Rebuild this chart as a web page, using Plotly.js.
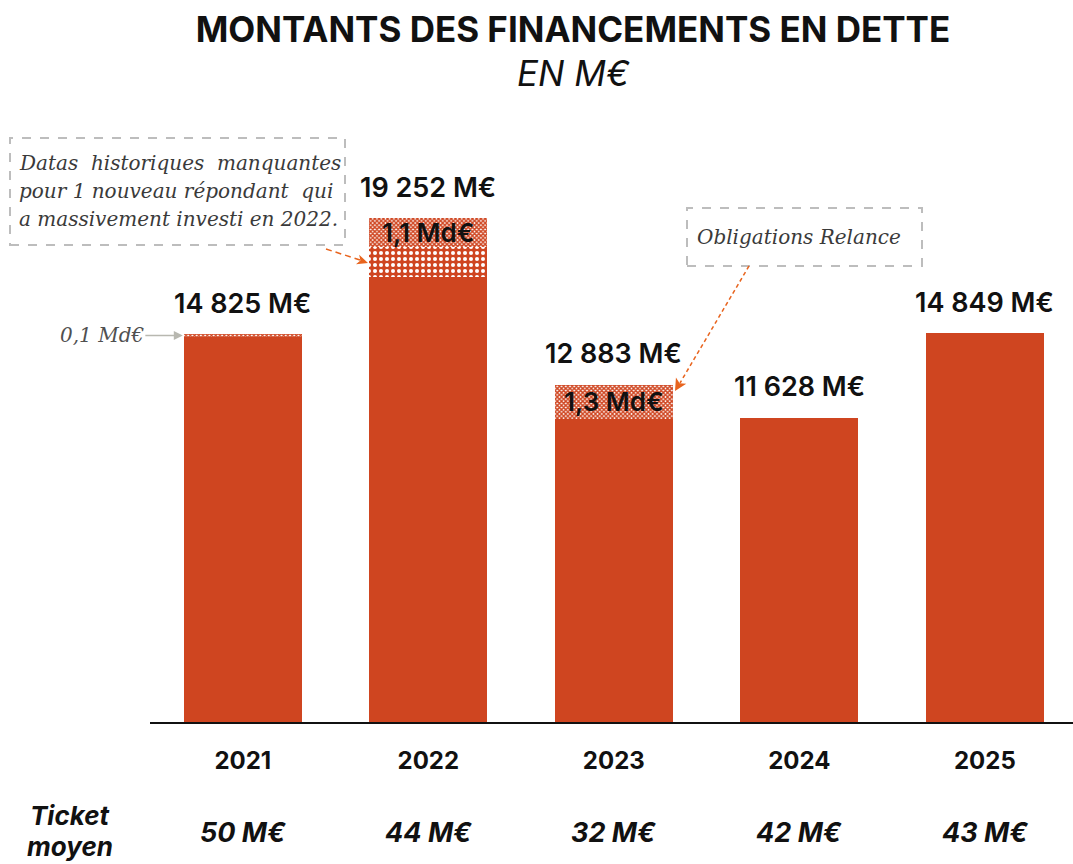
<!DOCTYPE html>
<html>
<head>
<meta charset="utf-8">
<script src="https://cdn.plot.ly/plotly-3.0.1.min.js"></script>
<style>html,body{margin:0;padding:0;background:#fff;}</style>
</head>
<body>
<div id="chart" style="width:1073px;height:864px;"></div>
<script>
// ---- data ----
const years = ['2021', '2022', '2023', '2024', '2025'];
const baseValues = [14725, 17002, 11583, 11628, 14849];      // solid part (M€)
const missingHistValues = [0, 1150, 0, 0, 0];                // historical data missing (new respondent)
const relanceValues = [100, 1100, 1300, 0, 0];               // Obligations Relance (M€)
const relanceLabels = ['', '1,1 Md€', '1,3 Md€', '', ''];
const ticketLabels = ['50 M€', '44 M€', '32 M€', '42 M€', '43 M€'];
const noteLines = ['Datas  historiques  manquantes', 'pour 1 nouveau répondant  qui', 'a massivement investi en 2022.'];

const totals = years.map((_, i) => baseValues[i] + missingHistValues[i] + relanceValues[i]);
const fmt = v => String(Math.round(v)).replace(/\B(?=(\d{3})+(?!\d))/g, ' ') + ' M€';

// ---- layout geometry helpers (pixels -> paper) ----
const W = 1073, H = 864, ML = 150, MR = 0, MT = 100, MB = 142;
const PW = W - ML - MR, PH = H - MT - MB;
const PX = px => (px - ML) / PW;
const PY = py => (H - MB - py) / PH;

const RED = '#CF4520';
const ORANGE = '#E8641E';
const SANS = 'Inter, "Noto Sans", sans-serif';
const SERIF = '"DejaVu Serif", "Liberation Serif", serif';
const barWidth = 0.636;

const traces = [
  {
    type: 'bar', x: years, y: baseValues, width: barWidth,
    marker: {color: RED, line: {width: 0}}, hoverinfo: 'skip'
  },
  {
    type: 'bar', x: years, y: missingHistValues, width: barWidth,
    marker: {color: RED, line: {width: 0},
      pattern: {shape: '.', bgcolor: RED, fgcolor: '#ffffff', size: 6, solidity: 0.35}},
    hoverinfo: 'skip'
  },
  {
    type: 'bar', x: years, y: relanceValues, width: barWidth,
    marker: {color: RED, line: {width: 0},
      pattern: {shape: 'x', bgcolor: '#ffffff', fgcolor: RED, size: 3, solidity: 0.72}},
    hoverinfo: 'skip'
  }
];

const annotations = [];
years.forEach((yr, i) => {
  annotations.push({
    x: i, y: totals[i], xref: 'x', yref: 'y', text: fmt(totals[i]),
    showarrow: false, xanchor: 'center', yanchor: 'middle', yshift: 31,
    font: {family: SANS, size: 27, color: '#111', weight: 600}
  });
  if (relanceLabels[i]) {
    annotations.push({
      x: i, y: baseValues[i] + missingHistValues[i] + relanceValues[i] / 2, xref: 'x', yref: 'y',
      text: relanceLabels[i], showarrow: false, xanchor: 'center', yanchor: 'middle',
      font: {family: SANS, size: 26, color: '#111', weight: 600}
    });
  }
  annotations.push({
    x: i, y: PY(832), xref: 'x', yref: 'paper', text: ticketLabels[i], showarrow: false,
    xanchor: 'center', yanchor: 'middle',
    font: {family: SANS, size: 27, color: '#111', weight: 700, style: 'italic'}
  });
});
annotations.push(
  {x: PX(70), y: PY(815), xref: 'paper', yref: 'paper', text: 'Ticket', showarrow: false,
   xanchor: 'center', yanchor: 'middle',
   font: {family: SANS, size: 26, color: '#111', weight: 700, style: 'italic'}},
  {x: PX(70), y: PY(846), xref: 'paper', yref: 'paper', text: 'moyen', showarrow: false,
   xanchor: 'center', yanchor: 'middle',
   font: {family: SANS, size: 26, color: '#111', weight: 700, style: 'italic'}},
  // subtitle
  {x: PX(573), y: PY(73), xref: 'paper', yref: 'paper', text: 'EN M€', showarrow: false,
   xanchor: 'center', yanchor: 'middle',
   font: {family: SANS, size: 35, color: '#111', style: 'italic'}},
  // 0,1 Md€ pointer
  {x: 0 - barWidth / 2 - 0.005, y: totals[0] - relanceValues[0] / 2, xref: 'x', yref: 'y',
   text: '0,1 Md€', showarrow: true, ax: -81, ay: 0, arrowhead: 2, arrowsize: 1.2, arrowwidth: 1.5,
   arrowcolor: '#b8b8b0', xanchor: 'center', yanchor: 'middle',
   font: {family: SERIF, size: 20, color: '#505050', style: 'italic'}},
  {x: PX(799), y: PY(237), xref: 'paper', yref: 'paper', showarrow: false,
   xanchor: 'center', yanchor: 'middle', text: 'Obligations Relance',
   font: {family: SERIF, size: 20, color: '#3a3a3a', style: 'italic'}}
);
noteLines.forEach((t, k) => {
  annotations.push({x: PX(17), y: PY(163 + 28 * k), xref: 'paper', yref: 'paper', showarrow: false,
    xanchor: 'left', yanchor: 'middle', text: t,
    font: {family: SERIF, size: 20, color: '#3a3a3a', style: 'italic'}});
});

function arrowHead(x1, y1, x2, y2, len, half) {
  const dx = x2 - x1, dy = y2 - y1, d = Math.hypot(dx, dy);
  const ux = dx / d, uy = dy / d;
  const bx = x2 - ux * len, by = y2 - uy * len;
  const p1 = [bx - uy * half, by + ux * half], p2 = [bx + uy * half, by - ux * half];
  return `M ${PX(x2)},${PY(y2)} L ${PX(p1[0])},${PY(p1[1])} L ${PX(bx + ux*3)},${PY(by + uy*3)} L ${PX(p2[0])},${PY(p2[1])} Z`;
}

const shapes = [
  {type: 'rect', xref: 'paper', yref: 'paper', x0: PX(10), x1: PX(345), y0: PY(245), y1: PY(138),
   line: {color: '#bdbdbd', width: 2, dash: 'dash'}, fillcolor: 'rgba(0,0,0,0)'},
  {type: 'rect', xref: 'paper', yref: 'paper', x0: PX(687), x1: PX(922), y0: PY(266), y1: PY(208),
   line: {color: '#bdbdbd', width: 2, dash: 'dash'}, fillcolor: 'rgba(0,0,0,0)'},
  {type: 'line', xref: 'paper', yref: 'paper', x0: PX(326), y0: PY(249), x1: PX(360), y1: PY(260),
   line: {color: ORANGE, width: 1.5, dash: '6px,4px'}},
  {type: 'path', xref: 'paper', yref: 'paper', path: arrowHead(326, 249, 368, 263, 11, 5),
   fillcolor: ORANGE, line: {width: 0}},
  {type: 'line', xref: 'paper', yref: 'paper', x0: PX(749), y0: PY(266), x1: PX(680), y1: PY(383),
   line: {color: ORANGE, width: 1.5, dash: '4px,3px'}},
  {type: 'path', xref: 'paper', yref: 'paper', path: arrowHead(749, 266, 675, 391, 12, 6),
   fillcolor: ORANGE, line: {width: 0}}
];

const layout = {
  width: W, height: H,
  margin: {l: ML, r: MR, t: MT, b: MB, pad: 0},
  paper_bgcolor: '#fff', plot_bgcolor: '#fff',
  barmode: 'stack', showlegend: false,
  title: {text: 'MONTANTS DES FINANCEMENTS EN DETTE', xref: 'container', yref: 'container',
          x: 573 / W, y: 1 - 30 / H, xanchor: 'center', yanchor: 'middle',
          font: {family: SANS, size: 35, color: '#111', weight: 700}},
  xaxis: {type: 'category', range: [-0.5, 4.475], showgrid: false, zeroline: false,
          showline: true, linecolor: '#111', linewidth: 2, ticks: '',
          ticklabelstandoff: 16,
          tickfont: {family: SANS, size: 24, color: '#111', weight: 700}, fixedrange: true},
  yaxis: {range: [0, 23770], visible: false, showgrid: false, zeroline: false, fixedrange: true},
  annotations: annotations,
  shapes: shapes
};

Plotly.newPlot('chart', traces, layout, {displayModeBar: false, staticPlot: true});
</script>
</body>
</html>
